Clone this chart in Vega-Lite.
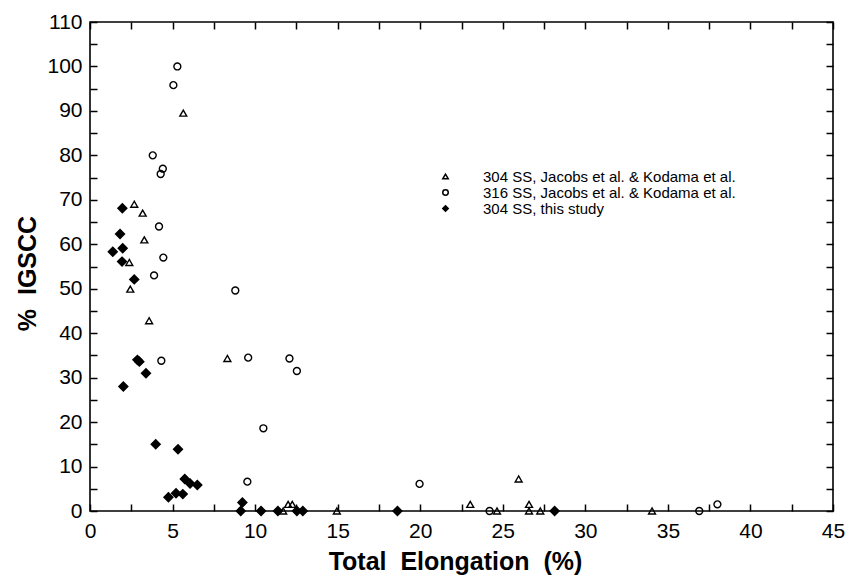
{
  "$schema": "https://vega.github.io/schema/vega-lite/v6.json",
  "autosize": {"type": "none"},
  "width": 743,
  "height": 489,
  "padding": {"left": 90, "top": 22, "right": 13, "bottom": 67},
  "data": {
    "values": [
      {"series": "316 SS, Jacobs et al. & Kodama et al.", "elong": 5.29, "igscc": 100},
      {"series": "316 SS, Jacobs et al. & Kodama et al.", "elong": 5.05, "igscc": 95.8},
      {"series": "316 SS, Jacobs et al. & Kodama et al.", "elong": 3.8, "igscc": 80},
      {"series": "316 SS, Jacobs et al. & Kodama et al.", "elong": 4.41, "igscc": 77},
      {"series": "316 SS, Jacobs et al. & Kodama et al.", "elong": 4.28, "igscc": 75.8},
      {"series": "316 SS, Jacobs et al. & Kodama et al.", "elong": 4.18, "igscc": 64},
      {"series": "316 SS, Jacobs et al. & Kodama et al.", "elong": 4.44, "igscc": 57},
      {"series": "316 SS, Jacobs et al. & Kodama et al.", "elong": 3.88, "igscc": 53},
      {"series": "316 SS, Jacobs et al. & Kodama et al.", "elong": 8.8, "igscc": 49.6},
      {"series": "316 SS, Jacobs et al. & Kodama et al.", "elong": 9.58, "igscc": 34.5},
      {"series": "316 SS, Jacobs et al. & Kodama et al.", "elong": 12.08, "igscc": 34.3},
      {"series": "316 SS, Jacobs et al. & Kodama et al.", "elong": 4.32, "igscc": 33.8},
      {"series": "316 SS, Jacobs et al. & Kodama et al.", "elong": 12.53, "igscc": 31.5},
      {"series": "316 SS, Jacobs et al. & Kodama et al.", "elong": 10.5, "igscc": 18.6},
      {"series": "316 SS, Jacobs et al. & Kodama et al.", "elong": 9.53, "igscc": 6.6},
      {"series": "316 SS, Jacobs et al. & Kodama et al.", "elong": 19.96, "igscc": 6.1},
      {"series": "316 SS, Jacobs et al. & Kodama et al.", "elong": 24.2, "igscc": 0},
      {"series": "316 SS, Jacobs et al. & Kodama et al.", "elong": 36.9, "igscc": 0},
      {"series": "316 SS, Jacobs et al. & Kodama et al.", "elong": 38.0, "igscc": 1.5},
      {"series": "304 SS, Jacobs et al. & Kodama et al.", "elong": 5.65, "igscc": 89.5},
      {"series": "304 SS, Jacobs et al. & Kodama et al.", "elong": 2.68, "igscc": 69},
      {"series": "304 SS, Jacobs et al. & Kodama et al.", "elong": 3.19, "igscc": 67},
      {"series": "304 SS, Jacobs et al. & Kodama et al.", "elong": 3.29, "igscc": 61},
      {"series": "304 SS, Jacobs et al. & Kodama et al.", "elong": 2.38, "igscc": 55.9},
      {"series": "304 SS, Jacobs et al. & Kodama et al.", "elong": 2.44, "igscc": 49.9},
      {"series": "304 SS, Jacobs et al. & Kodama et al.", "elong": 3.58, "igscc": 42.8},
      {"series": "304 SS, Jacobs et al. & Kodama et al.", "elong": 8.32, "igscc": 34.3},
      {"series": "304 SS, Jacobs et al. & Kodama et al.", "elong": 12.0, "igscc": 1.5},
      {"series": "304 SS, Jacobs et al. & Kodama et al.", "elong": 12.25, "igscc": 1.5},
      {"series": "304 SS, Jacobs et al. & Kodama et al.", "elong": 11.7, "igscc": 0},
      {"series": "304 SS, Jacobs et al. & Kodama et al.", "elong": 14.95, "igscc": 0},
      {"series": "304 SS, Jacobs et al. & Kodama et al.", "elong": 23.03, "igscc": 1.5},
      {"series": "304 SS, Jacobs et al. & Kodama et al.", "elong": 24.65, "igscc": 0},
      {"series": "304 SS, Jacobs et al. & Kodama et al.", "elong": 25.96, "igscc": 7.2},
      {"series": "304 SS, Jacobs et al. & Kodama et al.", "elong": 26.59, "igscc": 1.5},
      {"series": "304 SS, Jacobs et al. & Kodama et al.", "elong": 26.59, "igscc": 0},
      {"series": "304 SS, Jacobs et al. & Kodama et al.", "elong": 27.27, "igscc": 0},
      {"series": "304 SS, Jacobs et al. & Kodama et al.", "elong": 34.04, "igscc": 0},
      {"series": "304 SS, this study", "elong": 1.96, "igscc": 68.1},
      {"series": "304 SS, this study", "elong": 1.82, "igscc": 62.3},
      {"series": "304 SS, this study", "elong": 1.38, "igscc": 58.3},
      {"series": "304 SS, this study", "elong": 1.98, "igscc": 59.1},
      {"series": "304 SS, this study", "elong": 1.94, "igscc": 56.1},
      {"series": "304 SS, this study", "elong": 2.68, "igscc": 52.1},
      {"series": "304 SS, this study", "elong": 2.87, "igscc": 34},
      {"series": "304 SS, this study", "elong": 2.99, "igscc": 33.6},
      {"series": "304 SS, this study", "elong": 3.39, "igscc": 31},
      {"series": "304 SS, this study", "elong": 2.02, "igscc": 28},
      {"series": "304 SS, this study", "elong": 3.98, "igscc": 15},
      {"series": "304 SS, this study", "elong": 5.33, "igscc": 13.9},
      {"series": "304 SS, this study", "elong": 5.74, "igscc": 7.2},
      {"series": "304 SS, this study", "elong": 6.06, "igscc": 6.2},
      {"series": "304 SS, this study", "elong": 6.5, "igscc": 5.85},
      {"series": "304 SS, this study", "elong": 4.75, "igscc": 3.1},
      {"series": "304 SS, this study", "elong": 5.21, "igscc": 4.0},
      {"series": "304 SS, this study", "elong": 5.62, "igscc": 3.8},
      {"series": "304 SS, this study", "elong": 9.23, "igscc": 1.9},
      {"series": "304 SS, this study", "elong": 9.13, "igscc": 0},
      {"series": "304 SS, this study", "elong": 10.36, "igscc": 0},
      {"series": "304 SS, this study", "elong": 11.38, "igscc": 0},
      {"series": "304 SS, this study", "elong": 12.53, "igscc": 0},
      {"series": "304 SS, this study", "elong": 12.89, "igscc": 0},
      {"series": "304 SS, this study", "elong": 18.62, "igscc": 0},
      {"series": "304 SS, this study", "elong": 28.14, "igscc": 0}
    ]
  },
  "layer": [
    {
      "mark": {"type": "point", "stroke": "black", "strokeWidth": 1.4, "opacity": 1, "clip": false},
      "encoding": {
        "x": {
          "field": "elong", "type": "quantitative",
          "scale": {"domain": [0, 45], "nice": false, "zero": false},
          "axis": {
            "orient": "bottom",
            "title": "Total\u00a0\u00a0Elongation\u00a0\u00a0(%)",
            "titleX": 365,
            "titleAlign": "center",
            "values": [0, 2.5, 5, 7.5, 10, 12.5, 15, 17.5, 20, 22.5, 25, 27.5, 30, 32.5, 35, 37.5, 40, 42.5, 45],
            "labelExpr": "datum.value % 5 === 0 ? format(datum.value, 'd') : ''",
            "labelFlush": false,
            "offset": -7,
            "tickSize": 7,
            "tickColor": "black",
            "tickWidth": 1.5,
            "labelPadding": 9,
            "titlePadding": 8
          }
        },
        "y": {
          "field": "igscc", "type": "quantitative",
          "scale": {"domain": [0, 110], "nice": false, "zero": false},
          "axis": {
            "orient": "left",
            "title": "%\u00a0\u00a0IGSCC",
            "titleY": 251,
            "titleAlign": "center",
            "values": [0, 5, 10, 15, 20, 25, 30, 35, 40, 45, 50, 55, 60, 65, 70, 75, 80, 85, 90, 95, 100, 105, 110],
            "labelExpr": "datum.value % 10 === 0 ? format(datum.value, 'd') : ''",
            "labelFlush": false,
            "offset": -7,
            "tickSize": 7,
            "tickColor": "black",
            "tickWidth": 1.5,
            "labelPadding": 8,
            "titlePadding": 6
          }
        },
        "shape": {
          "field": "series", "type": "nominal",
          "scale": {
            "domain": ["304 SS, Jacobs et al. & Kodama et al.", "316 SS, Jacobs et al. & Kodama et al.", "304 SS, this study"],
            "range": ["triangle-up", "circle", "diamond"]
          },
          "legend": {
            "title": null,
            "orient": "none",
            "legendX": 348,
            "legendY": 147,
            "labelFont": "Liberation Sans",
            "labelFontSize": 15,
            "labelColor": "black",
            "labelLimit": 500,
            "labelOffset": 30,
            "symbolSize": 30,
            "rowPadding": 0,
            "encode": {"symbols": {"update": {"stroke": {"value": "black"}, "strokeWidth": {"value": 1.5}}}}
          }
        },
        "fill": {
          "field": "series", "type": "nominal",
          "scale": {
            "domain": ["304 SS, Jacobs et al. & Kodama et al.", "316 SS, Jacobs et al. & Kodama et al.", "304 SS, this study"],
            "range": ["rgba(0,0,0,0)", "rgba(0,0,0,0)", "black"]
          },
          "legend": {
            "title": null,
            "orient": "none",
            "legendX": 348,
            "legendY": 147,
            "labelFont": "Liberation Sans",
            "labelFontSize": 15,
            "labelColor": "black",
            "labelLimit": 500,
            "labelOffset": 30,
            "symbolSize": 30,
            "rowPadding": 0,
            "encode": {"symbols": {"update": {"stroke": {"value": "black"}, "strokeWidth": {"value": 1.5}}}}
          }
        },
        "size": {
          "condition": {"test": "datum.series === '304 SS, this study'", "value": 80},
          "value": 48
        }
      }
    },
    {
      "mark": {"type": "point", "opacity": 0},
      "encoding": {
        "x": {
          "field": "elong", "type": "quantitative",
          "axis": {"orient": "top", "title": null, "labels": false, "offset": -7, "tickSize": 7, "tickColor": "black", "tickWidth": 1.5,
            "values": [0, 2.5, 5, 7.5, 10, 12.5, 15, 17.5, 20, 22.5, 25, 27.5, 30, 32.5, 35, 37.5, 40, 42.5, 45]}
        },
        "y": {
          "field": "igscc", "type": "quantitative",
          "axis": {"orient": "right", "title": null, "labels": false, "offset": -7, "tickSize": 7, "tickColor": "black", "tickWidth": 1.5,
            "values": [0, 5, 10, 15, 20, 25, 30, 35, 40, 45, 50, 55, 60, 65, 70, 75, 80, 85, 90, 95, 100, 105, 110]}
        }
      }
    }
  ],
  "resolve": {"axis": {"x": "independent", "y": "independent"}},
  "config": {
    "view": {"stroke": "black", "strokeWidth": 1.6},
    "axis": {
      "domain": false,
      "grid": false,
      "labelFont": "Liberation Sans",
      "labelFontSize": 21,
      "labelColor": "black",
      "titleFont": "Liberation Sans",
      "titleFontSize": 25,
      "titleFontWeight": "bold",
      "titleColor": "black"
    }
  }
}
